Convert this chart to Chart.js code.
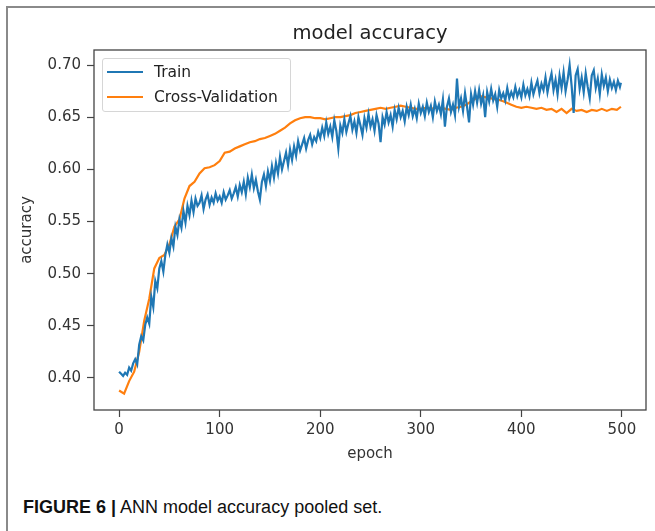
<!DOCTYPE html>
<html>
<head>
<meta charset="utf-8">
<script src="https://cdn.jsdelivr.net/npm/chart.js@4.4.0/dist/chart.umd.min.js"></script>
<style>
    html, body { margin: 0; padding: 0; background: #fff; }
    body { width: 655px; height: 531px; position: relative; overflow: hidden; font-family: "DejaVu Sans", sans-serif; }
    #frame { position: absolute; left: 6px; top: 6px; width: 660px; height: 540px; border-left: 2px solid #8a8a8a; border-top: 2px solid #8a8a8a; }
    #accChart { position: absolute; left: 0; top: 0; }
    #legend { position: absolute; left: 102px; top: 58px; width: 187px; height: 52px; border: 1px solid #d6d6d6; border-radius: 3px; background: rgba(255,255,255,0.8); }
    .item { position: absolute; left: 0; height: 20px; font-size: 15.5px; color: #222; }
    .item span.swatch { position: absolute; left: 4px; top: 9px; width: 36px; height: 2px; }
    .item span.label { position: absolute; left: 51px; top: 0; white-space: nowrap; line-height: 20px; }
    #caption { position: absolute; left: 23px; top: 497px; font-family: "Liberation Sans Narrow", "Liberation Sans", sans-serif; font-size: 18px; color: #111; white-space: nowrap; }
    #caption b { font-weight: bold; }
</style>
</head>
<body>
<div id="frame"></div>
<canvas id="accChart" width="655" height="470"></canvas>
<div id="legend">
    <div class="item" style="top:3px"><span class="swatch" style="background:#1f77b4"></span><span class="label">Train</span></div>
    <div class="item" style="top:28px"><span class="swatch" style="background:#ff7f0e"></span><span class="label">Cross-Validation</span></div>
</div>
<div id="caption"><b>FIGURE 6 |</b> ANN model accuracy pooled set.</div>
<script>
// ===== DATA =====
const chartTitle = 'model accuracy';

const trainEpochs = [
    0, 2, 4, 6, 8, 10, 12, 14, 16, 18,
    20, 22, 24, 26, 28, 30, 32, 34, 36, 38,
    40, 42, 44, 46, 48, 50, 52, 54, 56, 58,
    60, 62, 64, 66, 68, 70, 72, 74, 76, 78,
    80, 82, 84, 86, 88, 90, 92, 94, 96, 98,
    100, 102, 104, 106, 108, 110, 112, 114, 116, 118,
    120, 122, 124, 126, 128, 130, 132, 134, 136, 138,
    140, 142, 144, 146, 148, 150, 152, 154, 156, 158,
    160, 162, 164, 166, 168, 170, 172, 174, 176, 178,
    180, 182, 184, 186, 188, 190, 192, 194, 196, 198,
    200, 202, 204, 206, 208, 210, 212, 214, 216, 218,
    220, 222, 224, 226, 228, 230, 232, 234, 236, 238,
    240, 242, 244, 246, 248, 250, 252, 254, 256, 258,
    260, 262, 264, 266, 268, 270, 272, 274, 276, 278,
    280, 282, 284, 286, 288, 290, 292, 294, 296, 298,
    300, 302, 304, 306, 308, 310, 312, 314, 316, 318,
    320, 322, 324, 326, 328, 330, 332, 334, 336, 338,
    340, 342, 344, 346, 348, 350, 352, 354, 356, 358,
    360, 362, 364, 366, 368, 370, 372, 374, 376, 378,
    380, 382, 384, 386, 388, 390, 392, 394, 396, 398,
    400, 402, 404, 406, 408, 410, 412, 414, 416, 418,
    420, 422, 424, 426, 428, 430, 432, 434, 436, 438,
    440, 442, 444, 446, 448, 450, 452, 454, 456, 458,
    460, 462, 464, 466, 468, 470, 472, 474, 476, 478,
    480, 482, 484, 486, 488, 490, 492, 494, 496, 498,
    499];
const trainAcc = [
    0.406, 0.404, 0.402, 0.405, 0.403, 0.410, 0.407, 0.414, 0.418, 0.413,
    0.432, 0.440, 0.436, 0.451, 0.458, 0.452, 0.478, 0.468, 0.493, 0.486,
    0.505, 0.512, 0.502, 0.518, 0.528, 0.520, 0.534, 0.526, 0.545, 0.537,
    0.552, 0.544, 0.560, 0.549, 0.565, 0.556, 0.570, 0.559, 0.572, 0.565,
    0.568, 0.575, 0.562, 0.571, 0.576, 0.566, 0.573, 0.568, 0.577, 0.570,
    0.574, 0.568, 0.578, 0.571, 0.575, 0.580, 0.572, 0.577, 0.583, 0.574,
    0.585, 0.578, 0.588, 0.576, 0.592, 0.583, 0.595, 0.582, 0.590, 0.579,
    0.571, 0.588, 0.595, 0.584, 0.598, 0.589, 0.603, 0.592, 0.606, 0.596,
    0.612, 0.600, 0.608, 0.616, 0.604, 0.619, 0.609, 0.622, 0.613, 0.627,
    0.618, 0.624, 0.630, 0.620, 0.628, 0.633, 0.624, 0.631, 0.627, 0.636,
    0.630, 0.640, 0.632, 0.645, 0.634, 0.641, 0.631, 0.647, 0.637, 0.620,
    0.642, 0.635, 0.648, 0.636, 0.644, 0.651, 0.638, 0.646, 0.635, 0.650,
    0.642, 0.633, 0.649, 0.640, 0.653, 0.641, 0.648, 0.637, 0.652, 0.644,
    0.626, 0.650, 0.643, 0.655, 0.645, 0.652, 0.641, 0.657, 0.648, 0.659,
    0.650, 0.656, 0.646, 0.660, 0.652, 0.662, 0.651, 0.658, 0.649, 0.663,
    0.654, 0.660, 0.651, 0.664, 0.655, 0.661, 0.650, 0.665, 0.656, 0.662,
    0.653, 0.667, 0.641, 0.660, 0.668, 0.655, 0.662, 0.652, 0.687, 0.660,
    0.668, 0.656, 0.673, 0.660, 0.645, 0.672, 0.662, 0.675, 0.664, 0.676,
    0.663, 0.671, 0.650, 0.674, 0.665, 0.677, 0.666, 0.672, 0.660, 0.676,
    0.668, 0.673, 0.666, 0.678, 0.668, 0.674, 0.669, 0.679, 0.670, 0.676,
    0.669, 0.681, 0.671, 0.677, 0.670, 0.683, 0.672, 0.679, 0.685, 0.673,
    0.682, 0.676, 0.688, 0.674, 0.684, 0.692, 0.676, 0.686, 0.672, 0.690,
    0.678, 0.693, 0.675, 0.686, 0.700, 0.680, 0.654, 0.690, 0.696, 0.677,
    0.688, 0.674, 0.692, 0.679, 0.668, 0.690, 0.695, 0.678, 0.687, 0.672,
    0.691, 0.680, 0.688, 0.675, 0.686, 0.678, 0.684, 0.676, 0.685, 0.679,
    0.683];

const valEpochs = [0, 5, 10, 15, 20, 25, 30, 35, 40, 45, 50, 55, 60, 65, 70, 75, 80, 85, 90, 95,
    100, 105, 110, 115, 120, 125, 130, 135, 140, 145, 150, 155, 160, 165, 170, 175, 180, 185, 190, 195,
    200, 205, 210, 215, 220, 225, 230, 235, 240, 245, 250, 255, 260, 265, 270, 275, 280, 285, 290, 295,
    300, 305, 310, 315, 320, 325, 330, 335, 340, 345, 350, 355, 360, 365, 370, 375, 380, 385, 390, 395,
    400, 405, 410, 415, 420, 425, 430, 435, 440, 445, 450, 455, 460, 465, 470, 475, 480, 485, 490, 495, 499];
const valAcc = [0.388, 0.385, 0.397, 0.406, 0.425, 0.455, 0.476, 0.505, 0.515, 0.518, 0.528, 0.545, 0.552, 0.572, 0.584, 0.588, 0.596, 0.601, 0.602, 0.604,
    0.608, 0.616, 0.617, 0.620, 0.622, 0.624, 0.626, 0.627, 0.629, 0.630, 0.632, 0.634, 0.637, 0.640, 0.644, 0.647, 0.649, 0.650, 0.650, 0.649,
    0.649, 0.648, 0.649, 0.650, 0.650, 0.651, 0.652, 0.654, 0.655, 0.656, 0.657, 0.658, 0.659, 0.658, 0.659, 0.660, 0.661, 0.660, 0.659, 0.658,
    0.658, 0.659, 0.658, 0.659, 0.659, 0.658, 0.657, 0.659, 0.660, 0.662, 0.665, 0.668, 0.670, 0.669, 0.668, 0.667, 0.666, 0.664, 0.662, 0.660,
    0.659, 0.660, 0.659, 0.658, 0.659, 0.657, 0.658, 0.655, 0.658, 0.654, 0.658, 0.656, 0.657, 0.655, 0.657, 0.656, 0.658, 0.656, 0.658, 0.657, 0.660];

const xTicks = [0, 100, 200, 300, 400, 500];
const yTicks = [0.40, 0.45, 0.50, 0.55, 0.60, 0.65, 0.70];

const toPoints = (xs, ys) => xs.map((x, i) => ({ x: x, y: ys[i] }));

// matplotlib-style box round the plot area, and the title centred over it
const frameBox = {
    id: 'frameBox',
    afterDraw(chart) {
        const { ctx, chartArea: a } = chart;
        ctx.save();
        ctx.strokeStyle = '#444';
        ctx.lineWidth = 1.3;
        ctx.strokeRect(a.left, a.top, a.right - a.left, a.bottom - a.top);
        ctx.fillStyle = '#222';
        ctx.font = '19.5px "DejaVu Sans"';
        ctx.textAlign = 'center';
        ctx.textBaseline = 'middle';
        ctx.fillText(chartTitle, (a.left + a.right) / 2, 34);
        ctx.restore();
    }
};

const tickFont = { family: 'DejaVu Sans', size: 15 };

new Chart(document.getElementById('accChart'), {
    type: 'line',
    data: {
        datasets: [
            {
                label: 'Train',
                data: toPoints(trainEpochs, trainAcc),
                borderColor: '#1f77b4',
                borderWidth: 2.2,
                pointRadius: 0,
                tension: 0
            },
            {
                label: 'Cross-Validation',
                data: toPoints(valEpochs, valAcc),
                borderColor: '#ff7f0e',
                borderWidth: 2.2,
                pointRadius: 0,
                tension: 0
            }
        ]
    },
    options: {
        responsive: false,
        animation: false,
        devicePixelRatio: 1,
        layout: { padding: { left: 0, right: 9, top: 50, bottom: 0 } },
        plugins: {
            legend: { display: false },
            tooltip: { enabled: false },
            title: { display: false }
        },
        scales: {
            x: {
                type: 'linear',
                min: -24.95,
                max: 523.95,
                afterBuildTicks: s => { s.ticks = xTicks.map(v => ({ value: v })); },
                afterFit: s => { s.height = 60; },
                border: { display: false },
                grid: { display: true, drawOnChartArea: false, drawTicks: true, tickLength: 7, tickColor: '#444', tickWidth: 1.2 },
                ticks: { color: '#333', font: tickFont, padding: 4, maxRotation: 0, callback: v => String(v) },
                title: { display: true, text: 'epoch', color: '#333', font: tickFont, padding: { top: 0, bottom: 7 } }
            },
            y: {
                min: 0.3693,
                max: 0.7144,
                afterBuildTicks: s => { s.ticks = yTicks.map(v => ({ value: v })); },
                afterFit: s => { s.width = 94; },
                border: { display: false },
                grid: { display: true, drawOnChartArea: false, drawTicks: true, tickLength: 7, tickColor: '#444', tickWidth: 1.2 },
                ticks: { color: '#333', font: tickFont, padding: 6, callback: v => v.toFixed(2) },
                title: { display: true, text: 'accuracy', color: '#333', font: tickFont, padding: { top: 18, bottom: 0 } }
            }
        }
    },
    plugins: [frameBox]
});
</script>
</body>
</html>
